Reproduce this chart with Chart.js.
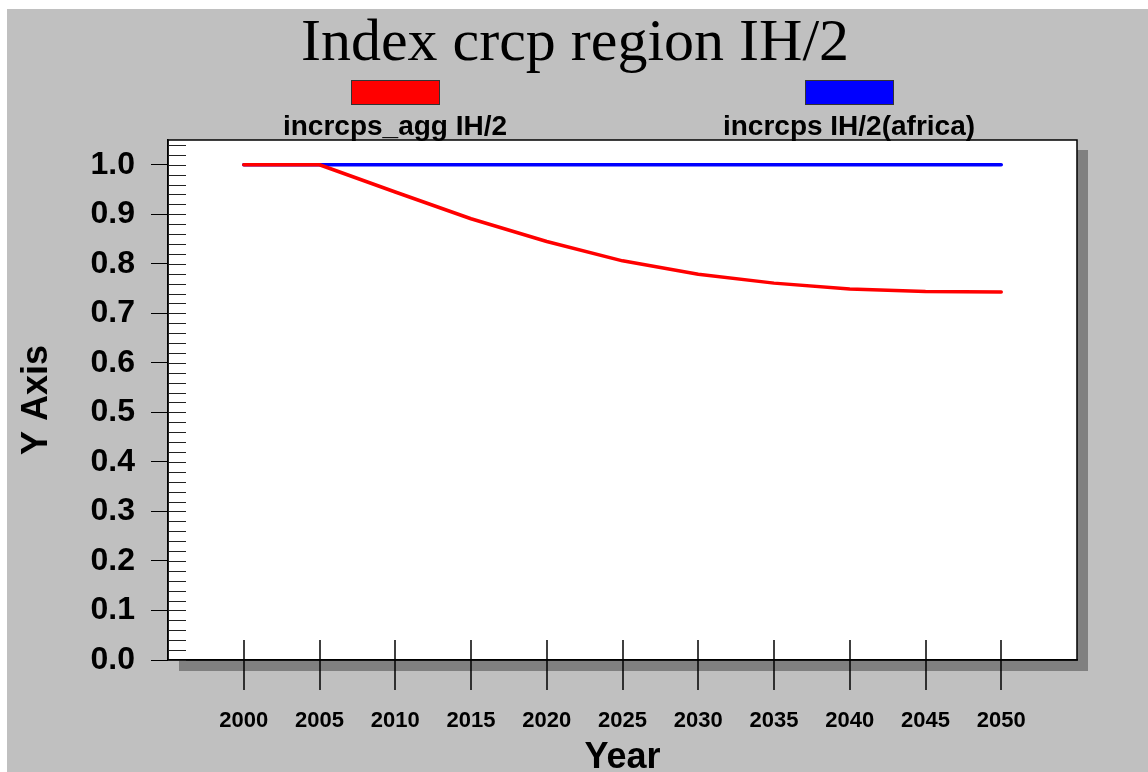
<!DOCTYPE html>
<html>
<head>
<meta charset="utf-8">
<script src="https://cdn.jsdelivr.net/npm/chart.js@4/dist/chart.umd.min.js"></script>
<style>
  html, body { margin: 0; padding: 0; background: #fff; }
  #wrap { width: 1148px; height: 772px; }
</style>
</head>
<body>
<div id="wrap"><canvas id="myChart" width="1148" height="772"></canvas></div>
<script>
// data
const years = [2000, 2005, 2010, 2015, 2020, 2025, 2030, 2035, 2040, 2045, 2050]
const aggValues = [1.0, 1.0, 0.945, 0.891, 0.845, 0.806, 0.779, 0.761, 0.749, 0.744, 0.743]
const africaValues = [1.0, 1.0, 1.0, 1.0, 1.0, 1.0, 1.0, 1.0, 1.0, 1.0, 1.0]
const seriesNames = ["incrcps_agg IH/2", "incrcps IH/2(africa)"]
const seriesColors = ["#ff0000", "#0000ff"]
const yTicks = [0.0, 0.1, 0.2, 0.3, 0.4, 0.5, 0.6, 0.7, 0.8, 0.9, 1.0]
const xTicks = [2000, 2005, 2010, 2015, 2020, 2025, 2030, 2035, 2040, 2045, 2050]
const chartTitle = 'Index crcp region IH/2'

const sans = "'Liberation Sans', Arial, sans-serif"

// background, shadow, frame, minor ticks, title, legend
const decoPlugin = {
  id: 'deco',
  beforeDraw(chart) {
    const { ctx, chartArea: a, width, height } = chart
    ctx.save()
    ctx.fillStyle = '#ffffff'
    ctx.fillRect(0, 0, width, height)
    ctx.fillStyle = '#c0c0c0'
    ctx.fillRect(7, 9, width - 7, height - 9)
    // shadow
    ctx.fillStyle = '#808080'
    ctx.fillRect(a.left + 11, a.top + 10, a.right - a.left, a.bottom - a.top + 1)
    ctx.fillStyle = '#ffffff'
    ctx.fillRect(a.left, a.top, a.right - a.left, a.bottom - a.top)
    ctx.restore()
  },
  afterDraw(chart) {
    const { ctx, chartArea: a, width } = chart
    const xs = chart.scales.x, ys = chart.scales.y
    ctx.save()
    ctx.strokeStyle = '#000'
    ctx.lineWidth = 1.5
    ctx.strokeRect(a.left, a.top, a.right - a.left, a.bottom - a.top)

    // minor ticks on y (inside)
    ctx.lineWidth = 1
    ctx.strokeStyle = '#222'
    for (let i = 0; i <= 105; i += 2) {
      const y = Math.round(ys.getPixelForValue(i / 100)) + 0.5
      if (y < a.top + 1) continue
      ctx.beginPath()
      ctx.moveTo(a.left, y)
      ctx.lineTo(a.left + 18, y)
      ctx.stroke()
    }

    // x ticks crossing the bottom edge
    ctx.lineWidth = 1.5
    ctx.strokeStyle = '#000'
    xTicks.forEach(v => {
      const x = Math.round(xs.getPixelForValue(v))
      ctx.beginPath()
      ctx.moveTo(x, a.bottom - 20)
      ctx.lineTo(x, a.bottom + 30)
      ctx.stroke()
    })

    // title
    ctx.fillStyle = '#000'
    ctx.font = "60px 'Liberation Serif', 'Times New Roman', serif"
    ctx.textAlign = 'center'
    ctx.textBaseline = 'alphabetic'
    ctx.fillText(chartTitle, width / 2 + 1, 60)

    // legend: box above label
    const legendX = [395, 849]
    ctx.font = 'bold 28px ' + sans
    ctx.textAlign = 'center'
    ctx.textBaseline = 'alphabetic'
    seriesNames.forEach((name, i) => {
      const cx = legendX[i]
      ctx.fillStyle = seriesColors[i]
      ctx.fillRect(cx - 44, 80, 88, 24)
      ctx.strokeStyle = '#333'
      ctx.lineWidth = 1
      ctx.strokeRect(cx - 44 + 0.5, 80.5, 88, 24)
      ctx.fillStyle = '#000'
      ctx.fillText(name, cx, 135)
    })
    ctx.restore()
  }
}

const data = {
  datasets: [
    {
      label: seriesNames[0],
      data: years.map((yr, i) => ({ x: yr, y: aggValues[i] })),
      borderColor: seriesColors[0],
      borderWidth: 3.5,
      pointRadius: 0,
      tension: 0,
      borderCapStyle: 'round',
      borderJoinStyle: 'round'
    },
    {
      label: seriesNames[1],
      data: years.map((yr, i) => ({ x: yr, y: africaValues[i] })),
      borderColor: seriesColors[1],
      borderWidth: 3.5,
      pointRadius: 0,
      borderCapStyle: 'round'
    }
  ]
}

const config = {
  type: 'line',
  data,
  options: {
    responsive: false,
    animation: false,
    layout: { padding: { top: 140, right: 1148 - 1077, bottom: 0, left: 0 } },
    plugins: {
      legend: { display: false },
      tooltip: { enabled: false },
      title: { display: false }
    },
    scales: {
      x: {
        type: 'linear',
        min: 1995,
        max: 2055,
        afterBuildTicks: s => { s.ticks = xTicks.map(v => ({ value: v })) },
        afterFit: s => { s.height = 772 - 660 },
        grid: { display: false },
        border: { display: true, color: '#000', width: 1.5 },
        ticks: {
          padding: 40,
          color: '#000',
          font: { family: sans, size: 22, weight: 'bold' },
          callback: v => String(v)
        },
        title: {
          display: true,
          text: 'Year',
          color: '#000',
          font: { family: sans, size: 36, weight: 'bold', lineHeight: 1 },
          padding: { top: 0, bottom: -4 }
        }
      },
      y: {
        min: 0,
        max: 1.05,
        afterBuildTicks: s => { s.ticks = yTicks.map(v => ({ value: v })) },
        afterFit: s => { s.width = 168 },
        grid: { drawOnChartArea: false, drawTicks: true, tickLength: 17, color: '#000', lineWidth: 1 },
        border: { display: true, color: '#000', width: 1.5 },
        ticks: {
          padding: 16,
          color: '#000',
          font: { family: sans, size: 32, weight: 'bold' },
          callback: v => v.toFixed(1)
        },
        title: {
          display: true,
          text: 'Y Axis',
          color: '#000',
          font: { family: sans, size: 36, weight: 'bold' },
          padding: { top: 15, bottom: 0 }
        }
      }
    }
  },
  plugins: [decoPlugin]
}

const myChart = new Chart(document.getElementById('myChart'), config)
</script>
</body>
</html>
